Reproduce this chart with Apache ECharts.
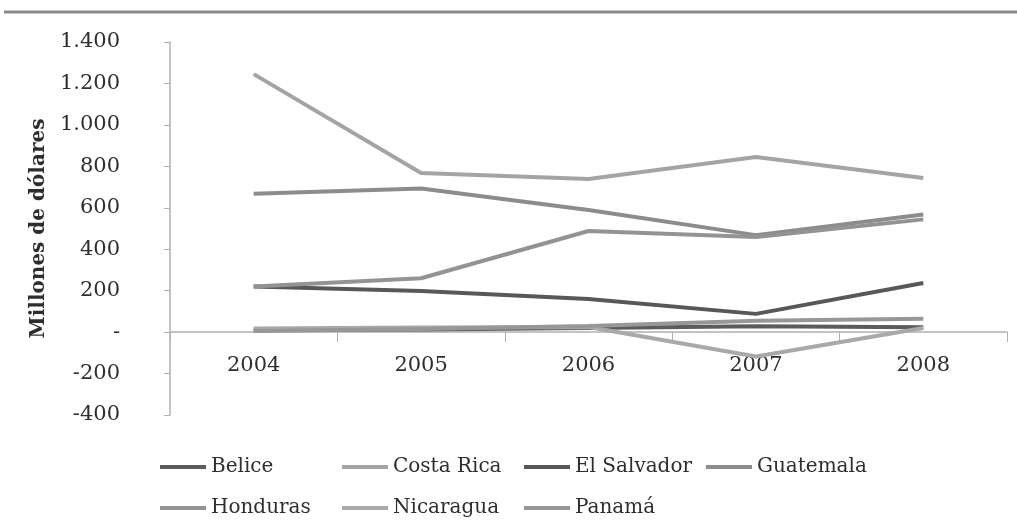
<!DOCTYPE html>
<html>
<head>
<meta charset="utf-8">
<script src="https://cdn.jsdelivr.net/npm/echarts@6/dist/echarts.min.js"></script>
<style>
html,body{margin:0;padding:0;background:#fff;}
#c{width:1017px;height:520px;}
</style>
</head>
<body>
<div id="c"></div>
<script>
const years = ['2004','2005','2006','2007','2008'];
const belice      = [10, 12, 20, 28, 24];
const costaRica   = [1245, 768, 739, 845, 744];
const elSalvador  = [220, 198, 160, 88, 237];
const guatemala   = [668, 693, 589, 468, 568];
const honduras    = [220, 260, 488, 459, 544];
const nicaragua   = [18, 22, 25, -118, 20];
const panama      = [5, 15, 30, 55, 65];
const seriesNames = ['Belice','Costa Rica','El Salvador','Guatemala','Honduras','Nicaragua','Panamá'];
const seriesData  = [belice, costaRica, elSalvador, guatemala, honduras, nicaragua, panama];
const colors = ['#5c5c5c','#a4a4a4','#585858','#8c8c8c','#939393','#a9a9a9','#979797'];

const font = 'DejaVu Serif';
const legendPos = [[160,457],[342,457],[524,457],[706,457],[160,498],[342,498],[524,498]];

const chart = echarts.init(document.getElementById('c'));
chart.setOption({
  animation: false,
  color: colors,
  grid: {left: 170, right: 10, top: 42, bottom: 105},
  graphic: [{
    type: 'line', shape: {x1: 4, y1: 12, x2: 1017, y2: 12},
    style: {stroke: '#8a8a8a', lineWidth: 3}
  }],
  legend: seriesNames.map((n, i) => ({
    data: [n], left: legendPos[i][0], top: legendPos[i][1],
    icon: 'rect', itemWidth: 46, itemHeight: 4, itemGap: 0,
    textStyle: {fontFamily: font, fontSize: 20, color: '#2e2e2e'},
    padding: 0
  })),
  xAxis: {
    type: 'category', data: years, boundaryGap: true,
    axisLine: {onZero: true, lineStyle: {color: '#b0b0b0', width: 1.5}},
    axisTick: {show: true, length: 10, lineStyle: {color: '#b0b0b0'}},
    axisLabel: {fontFamily: font, fontSize: 21, color: '#2e2e2e', margin: -60}
  },
  yAxis: {
    type: 'value', min: -400, max: 1400, interval: 200,
    name: 'Millones de dólares', nameLocation: 'middle', nameGap: 104,
    nameTextStyle: {fontFamily: font, fontSize: 20, fontWeight: 'bold', color: '#2e2e2e'},
    axisLine: {show: true, lineStyle: {color: '#b0b0b0', width: 1.5}},
    axisTick: {show: true, length: 6, lineStyle: {color: '#b0b0b0'}},
    splitLine: {show: false},
    axisLabel: {
      fontFamily: font, fontSize: 21, color: '#2e2e2e', margin: 50,
      formatter: v => v === 0 ? '-' : (v < 0 ? '-' : '') + Math.abs(v).toString().replace(/\B(?=(\d{3})+(?!\d))/g, '.')
    }
  },
  series: seriesNames.map((n, i) => ({
    name: n, type: 'line', data: seriesData[i],
    symbol: 'none', lineStyle: {width: 4, color: colors[i]}, itemStyle: {color: colors[i]}
  }))
});
</script>
</body>
</html>
